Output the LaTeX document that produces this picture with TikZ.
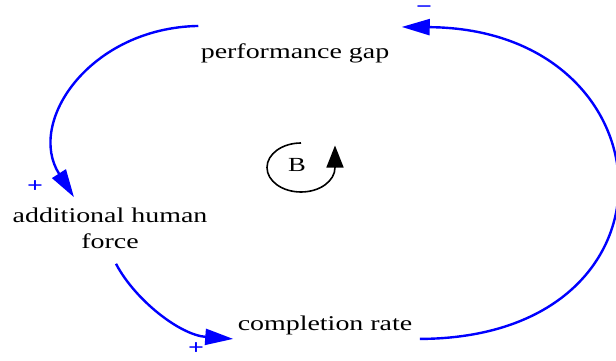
\documentclass[tikz,border=0pt]{standalone}
\usepackage{fontspec}
\setmainfont{Liberation Serif}
\usetikzlibrary{arrows.meta}

\begin{document}
\begin{tikzpicture}[
    x=0.5pt, y=0.5pt,
    var/.style={inner sep=0pt, align=center, xscale=1.33, font=\fontsize{10.5}{13}\selectfont},
    sign/.style={inner sep=0pt, xscale=1.33, text=blue, font=\fontsize{10.5}{13}\selectfont\bfseries},
    link/.style={-{Triangle[length=14pt, width=8pt]}, blue, line width=1.2pt},
    looparrow/.style={-{Triangle[length=11pt, width=8.5pt]}, black, line width=0.8pt},
  ]
    \useasboundingbox (0,0) rectangle (616,360);

    % Nodes
    \node[var] (gap) at (295,307) {performance gap};
    \node[var] (force) at (110,132) {additional human\\force};
    \node[var] (rate) at (325,35) {completion rate};
    \node[var, font=\fontsize{10}{12}\selectfont] (B) at (297,195) {B};

    % Polarities
    \node[sign] (plusforce) at (35,173) {+};
    \node[sign] (plusrate) at (196,11) {+};
    \node[sign] (minusgap) at (424,350) {−};

    % Arrows
    \draw[link] ([shift={(-2,17)}]gap.north west) .. controls (90,332) and (26,238) .. ([shift={(-36,10)}]force.north);
    \draw[link] ([shift={(6,-15)}]force.south) .. controls (135,60) and (180,25) .. ([shift={(-4,-4)}]rate.south west);
    \draw[link] ([shift={(7,-4)}]rate.south east) .. controls (693,22) and (674,331) .. ([shift={(12,16)}]gap.north east);
    \draw[looparrow] ([shift={(4,22)}]B.center) arc[start angle=90, end angle=360, x radius=34, y radius=24.5] -- ++(0,22);

  \end{tikzpicture}
\end{document}
